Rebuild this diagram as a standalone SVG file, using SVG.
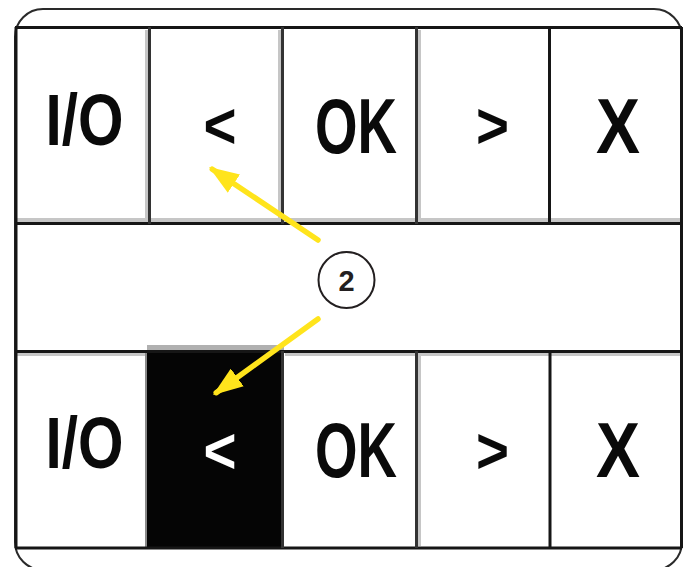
<svg xmlns="http://www.w3.org/2000/svg" width="684" height="567" viewBox="0 0 684 567">
  <style>
    .frame { fill: #ffffff; stroke: #2a2a2a; stroke-width: 2; }
    .rule { stroke: #161616; stroke-width: 3; }
    .sep { stroke: #333333; stroke-width: 3; }
    .shade { fill: #c6c6c6; }
    .key { font-family: "Liberation Sans Narrow", "Liberation Sans", Arial, sans-serif; font-weight: bold; fill: #0a0a0a; text-anchor: middle; }
    .sym { font-family: "Liberation Sans", Arial, sans-serif; font-weight: bold; fill: #0a0a0a; text-anchor: middle; }
    .inv { fill: #ffffff; }
    .callout { fill: none; stroke: #ffe41c; stroke-width: 5.5; stroke-linecap: round; }
    .badge { fill: #ffffff; stroke: #231f20; stroke-width: 2; }
    .badge-text { font-family: "Liberation Sans", Arial, sans-serif; font-weight: bold; font-size: 29px; fill: #231f20; text-anchor: middle; }
  </style>
  <defs>
    <marker id="head" markerUnits="userSpaceOnUse" viewBox="0 -11 30 22" markerWidth="30" markerHeight="22" refX="26" refY="0" orient="auto">
      <path d="M0,-11 L30,0 L0,11 z" fill="#ffe41c"/>
    </marker>
  </defs>

  <!-- panel outline -->
  <rect class="frame" x="15" y="9" width="667" height="561" rx="28" ry="28"/>

  <!-- soft shading under the key edges -->
  <rect class="shade" x="16" y="218" width="666" height="4"/>
  <rect class="shade" x="145" y="30" width="3" height="190"/>
  <rect class="shade" x="278" y="30" width="3" height="190"/>
  <rect class="shade" x="418" y="30" width="3" height="190"/>
  <rect class="shade" x="16" y="353" width="130" height="3"/>
  <rect class="shade" x="285" y="353" width="397" height="3"/>
  <rect class="shade" x="418" y="356" width="3" height="190"/>

  <!-- top row of keys -->
  <g id="top-io">
    <text class="key" x="84.5" y="145" font-size="73" textLength="78" lengthAdjust="spacingAndGlyphs">I/O</text>
  </g>
  <g id="top-left">
    <text class="sym" x="220" y="148" font-size="64" textLength="33" lengthAdjust="spacingAndGlyphs">&lt;</text>
  </g>
  <g id="top-ok">
    <text class="key" x="356" y="153" font-size="77" textLength="82" lengthAdjust="spacingAndGlyphs">OK</text>
  </g>
  <g id="top-right">
    <text class="sym" x="492.5" y="148" font-size="64" textLength="33" lengthAdjust="spacingAndGlyphs">&gt;</text>
  </g>
  <g id="top-x">
    <text class="key" x="618" y="153" font-size="77" textLength="44" lengthAdjust="spacingAndGlyphs">X</text>
  </g>

  <!-- bottom row of keys, with the "<" key selected -->
  <g id="bottom-io">
    <text class="key" x="84.5" y="468" font-size="73" textLength="78" lengthAdjust="spacingAndGlyphs">I/O</text>
  </g>
  <g id="bottom-left">
    <rect x="147" y="345" width="137" height="5" fill="#b0b0b0"/>
    <rect x="145" y="350" width="3" height="197" fill="#8a8a8a"/>
    <rect x="147" y="350" width="137" height="197" fill="#050505"/>
    <text class="sym inv" x="220" y="473" font-size="64" textLength="33" lengthAdjust="spacingAndGlyphs">&lt;</text>
  </g>
  <g id="bottom-ok">
    <text class="key" x="356" y="477" font-size="77" textLength="82" lengthAdjust="spacingAndGlyphs">OK</text>
  </g>
  <g id="bottom-right">
    <text class="sym" x="492.5" y="473" font-size="64" textLength="33" lengthAdjust="spacingAndGlyphs">&gt;</text>
  </g>
  <g id="bottom-x">
    <text class="key" x="618" y="477" font-size="77" textLength="44" lengthAdjust="spacingAndGlyphs">X</text>
  </g>

  <!-- key grid lines -->
  <g id="grid">
    <line class="rule" x1="15" y1="27.5" x2="682" y2="27.5"/>
    <line class="rule" x1="15" y1="223.5" x2="682" y2="223.5"/>
    <line class="rule" x1="15" y1="351.5" x2="682" y2="351.5"/>
    <line class="rule" x1="15" y1="548" x2="682" y2="548"/>
    <line class="sep" x1="149.5" y1="27" x2="149.5" y2="224"/>
    <line class="sep" x1="282.5" y1="27" x2="282.5" y2="224"/>
    <line class="sep" x1="416.5" y1="27" x2="416.5" y2="224"/>
    <line class="rule" x1="549.5" y1="27" x2="549.5" y2="224"/>
    <line class="sep" x1="282.5" y1="351" x2="282.5" y2="548"/>
    <line class="sep" x1="416.5" y1="351" x2="416.5" y2="548"/>
    <line class="rule" x1="550" y1="351" x2="550" y2="548"/>
    <line class="rule" x1="681.5" y1="27" x2="681.5" y2="548"/>
    <line class="rule" x1="16" y1="27" x2="16" y2="548"/>
  </g>

  <!-- callout arrows -->
  <g id="connectors">
    <line class="callout" x1="318" y1="240" x2="212.3" y2="169.2" marker-end="url(#head)"/>
    <line class="callout" x1="318" y1="319" x2="216.2" y2="392.7" marker-end="url(#head)"/>
  </g>

  <!-- callout number -->
  <g id="badge-2">
    <circle class="badge" cx="346.5" cy="280" r="28"/>
    <text class="badge-text" x="346.5" y="290.5">2</text>
  </g>
</svg>
